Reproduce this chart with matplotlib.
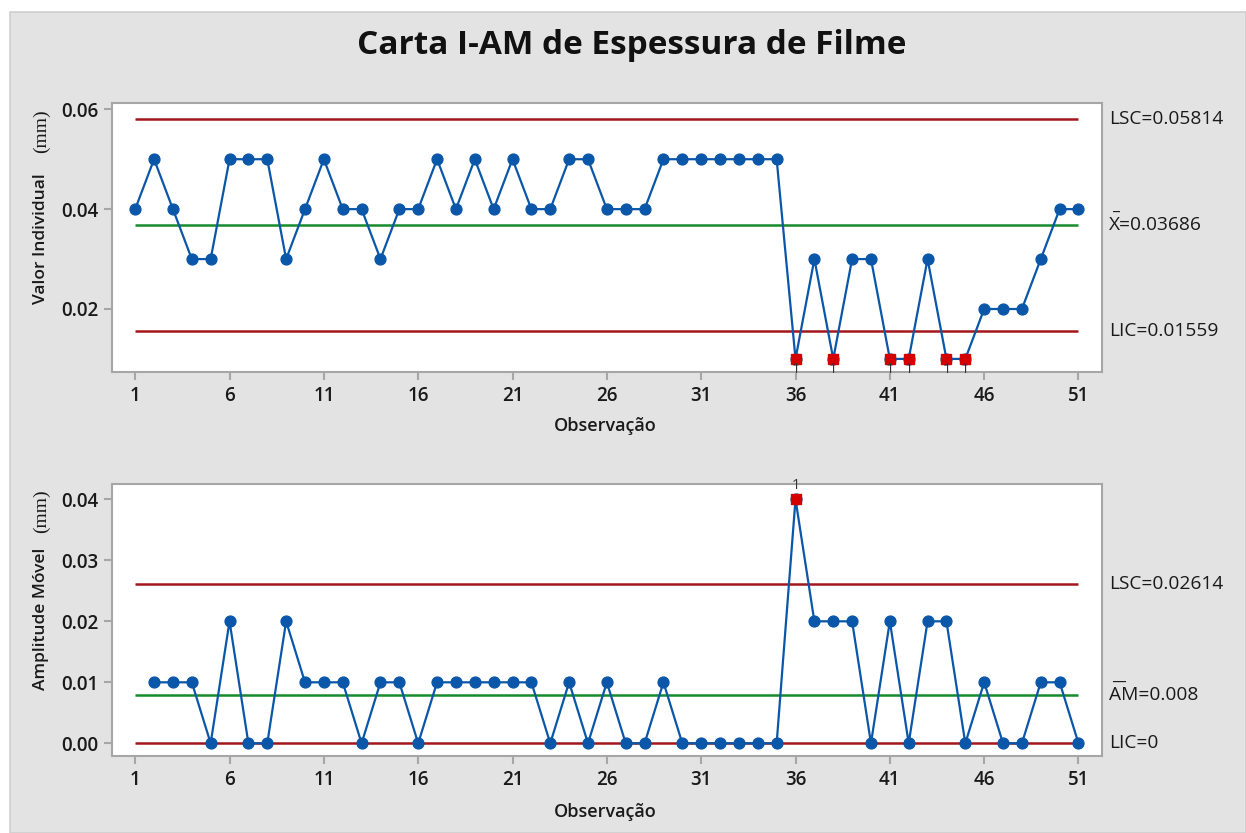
import matplotlib
matplotlib.use("Agg")
import matplotlib.pyplot as plt
import matplotlib.transforms as mtransforms
from matplotlib.patches import Rectangle
import numpy as np

# ---------------- data ----------------
obs = list(range(1, 52))
individual = [0.04, 0.05, 0.04, 0.03, 0.03, 0.05, 0.05, 0.05, 0.03, 0.04,
              0.05, 0.04, 0.04, 0.03, 0.04, 0.04, 0.05, 0.04, 0.05, 0.04,
              0.05, 0.04, 0.04, 0.05, 0.05, 0.04, 0.04, 0.04, 0.05, 0.05,
              0.05, 0.05, 0.05, 0.05, 0.05, 0.01, 0.03, 0.01, 0.03, 0.03,
              0.01, 0.01, 0.03, 0.01, 0.01, 0.02, 0.02, 0.02, 0.03, 0.04,
              0.04]
mr_obs = list(range(2, 52))
moving_range = [0.01, 0.01, 0.01, 0.00, 0.02, 0.00, 0.00, 0.02, 0.01,
                0.01, 0.01, 0.00, 0.01, 0.01, 0.00, 0.01, 0.01, 0.01, 0.01,
                0.01, 0.01, 0.00, 0.01, 0.00, 0.01, 0.00, 0.00, 0.01, 0.00,
                0.00, 0.00, 0.00, 0.00, 0.00, 0.04, 0.02, 0.02, 0.02, 0.00,
                0.02, 0.00, 0.02, 0.02, 0.00, 0.01, 0.00, 0.00, 0.01, 0.01,
                0.00]
i_lsc, i_center, i_lic = 0.05814, 0.03686, 0.01559
mr_lsc, mr_center, mr_lic = 0.02614, 0.008, 0.0
x_ticks = [1, 6, 11, 16, 21, 26, 31, 36, 41, 46, 51]

title = "Carta I-AM de Espessura de Filme"
xlabel = "Observação"

# ---------------- style ----------------
W, H = 1246, 833
BG = "#e3e3e3"
BLUE = "#0a56a8"
RED_LINE = "#a3161c"
GREEN = "#168c2c"
RED_PT = "#d40000"
SPINE = "#a6a6a6"
TXT = "#1a1a1a"
FONT = "Open Sans"

plt.rcParams["font.family"] = [FONT, "DejaVu Sans"]

fig = plt.figure(figsize=(W / 100, H / 100), dpi=100)
fig.patch.set_facecolor("white")


def fx(x):
    return x / W


def fy(y):
    return 1 - y / H


# gray panel
fig.patches.append(Rectangle((fx(10), 0), 1 - fx(10), fy(12), transform=fig.transFigure,
                             facecolor=BG, edgecolor="#cfcfcf", lw=1.2, zorder=-10))

fig.text(fx(632), fy(46), title, ha="center", va="center", fontsize=24,
         fontweight="bold", color="#111111")


def setup_axes(ax, ylim, yticks, yfmt):
    ax.set_facecolor("white")
    ax.set_xlim(1 - 1.23, 51 + 1.23)
    ax.set_ylim(*ylim)
    ax.set_xticks(x_ticks)
    ax.set_xticklabels([str(t) for t in x_ticks])
    ax.set_yticks(yticks)
    ax.set_yticklabels([yfmt.format(v) for v in yticks])
    for s in ax.spines.values():
        s.set_color(SPINE)
        s.set_linewidth(1.5)
    ax.tick_params(axis="both", which="major", length=6, width=1.5, color=SPINE,
                   labelsize=13.5, labelcolor=TXT, direction="out", pad=4)
    for lab in ax.get_xticklabels() + ax.get_yticklabels():
        lab.set_fontweight("semibold")


def right_label(ax, tr, yv, text, bar=None):
    ax.text(fx(1109), yv, text, transform=tr, ha="left", va="center",
            fontsize=13.8, color=TXT)
    if bar:
        btr = mtransforms.offset_copy(tr, fig=fig, x=0, y=18, units="dots")
        ax.text(fx(1112), yv, bar, transform=btr, ha="left", va="center",
                fontsize=11.5, color=TXT)


def flag(ax, xv, yv, dy):
    t = ax.annotate("1", (xv, yv), xytext=(0, dy), textcoords="offset points",
                    ha="center", va="center", fontsize=10.5, color="#333333",
                    zorder=5, annotation_clip=False)
    t.set_clip_on(False)


# ---------------- top: individuals ----------------
ax1 = fig.add_axes([fx(112), fy(371.7), fx(1101.7 - 112), (371.7 - 103.3) / H])
setup_axes(ax1, (0.00744, 0.0612), [0.02, 0.04, 0.06], "{:.2f}")
ax1.hlines([i_lsc, i_lic], 1, 51, colors=RED_LINE, lw=1.8, zorder=2)
ax1.hlines([i_center], 1, 51, colors=GREEN, lw=1.8, zorder=2)
ax1.plot(obs, individual, "-o", color=BLUE, lw=1.6, ms=7.8, zorder=3)
ind_arr = np.array(individual)
obs_arr = np.array(obs)
out1 = (ind_arr < i_lic) | (ind_arr > i_lsc)
ax1.plot(obs_arr[out1], ind_arr[out1], "s", color=RED_PT, ms=7.8, zorder=4)
for xv, yv in zip(obs_arr[out1], ind_arr[out1]):
    flag(ax1, xv, yv, -7.5)

tr1 = mtransforms.blended_transform_factory(fig.transFigure, ax1.transData)
right_label(ax1, tr1, i_lsc, "LSC=0.05814")
right_label(ax1, tr1, i_center, "X=0.03686", bar="_")
right_label(ax1, tr1, i_lic, "LIC=0.01559")

fig.text(fx(605), fy(426), xlabel, ha="center", va="center", fontsize=13,
         fontweight="semibold", color=TXT)
fig.text(fx(41), fy(239), "Valor Individual", rotation=90, ha="center", va="center",
         fontsize=12.5, fontweight="semibold", color=TXT)
fig.text(fx(41), fy(131), "(mm)", rotation=90, ha="center", va="center",
         fontsize=14, family=["Liberation Serif", "DejaVu Serif"], color=TXT)

# ---------------- bottom: moving range ----------------
ax2 = fig.add_axes([fx(112), fy(756), fx(1101.7 - 112), (756 - 484.3) / H])
setup_axes(ax2, (-0.00208, 0.04246), [0.00, 0.01, 0.02, 0.03, 0.04], "{:.2f}")
ax2.hlines([mr_lsc, mr_lic], 1, 51, colors=RED_LINE, lw=1.8, zorder=2)
ax2.hlines([mr_center], 1, 51, colors=GREEN, lw=1.8, zorder=2)
ax2.plot(mr_obs, moving_range, "-o", color=BLUE, lw=1.6, ms=7.8, zorder=3)
mr_arr = np.array(moving_range)
mro_arr = np.array(mr_obs)
out2 = mr_arr > mr_lsc
ax2.plot(mro_arr[out2], mr_arr[out2], "s", color=RED_PT, ms=7.8, zorder=4)
for xv, yv in zip(mro_arr[out2], mr_arr[out2]):
    flag(ax2, xv, yv, 10)

tr2 = mtransforms.blended_transform_factory(fig.transFigure, ax2.transData)
right_label(ax2, tr2, mr_lsc, "LSC=0.02614")
right_label(ax2, tr2, mr_center, "AM=0.008", bar="__")
right_label(ax2, tr2, mr_lic, "LIC=0")

fig.text(fx(605), fy(812), xlabel, ha="center", va="center", fontsize=13,
         fontweight="semibold", color=TXT)
fig.text(fx(41), fy(619), "Amplitude Móvel", rotation=90, ha="center", va="center",
         fontsize=12.5, fontweight="semibold", color=TXT)
fig.text(fx(41), fy(511), "(mm)", rotation=90, ha="center", va="center",
         fontsize=14, family=["Liberation Serif", "DejaVu Serif"], color=TXT)

fig.savefig("out.png", dpi=100, facecolor=fig.get_facecolor())
